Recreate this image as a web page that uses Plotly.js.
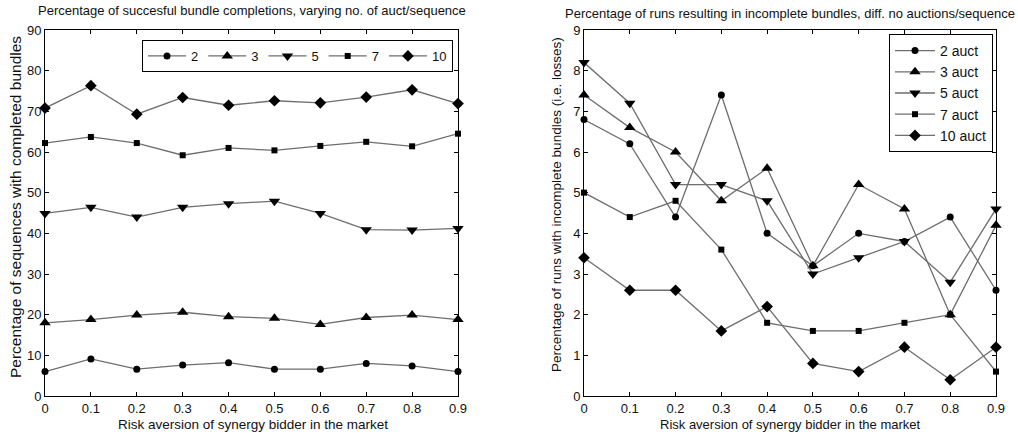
<!DOCTYPE html>
<html>
<head>
<meta charset="utf-8">
<script src="https://cdn.plot.ly/plotly-3.0.1.min.js"></script>
<style>html,body{margin:0;padding:0;background:#fff}#chart{width:1018px;height:434px}</style>
</head>
<body>
<div id="chart"></div>
<script>
// x values: risk aversion
var riskAversion = [0, 0.1, 0.2, 0.3, 0.4, 0.5, 0.6, 0.7, 0.8, 0.9];

// Left: percentage of sequences with completed bundles
var leftNames = ["2", "3", "5", "7", "10"];
var comp2  = [6.0, 9.1, 6.6, 7.6, 8.2, 6.6, 6.6, 8.0, 7.4, 6.0];
var comp3  = [18.0, 18.8, 19.9, 20.6, 19.5, 19.1, 17.6, 19.3, 19.9, 18.8];
var comp5  = [44.9, 46.4, 44.0, 46.4, 47.3, 47.9, 44.9, 40.9, 40.8, 41.2];
var comp7  = [62.2, 63.7, 62.2, 59.2, 61.0, 60.4, 61.5, 62.5, 61.4, 64.5];
var comp10 = [70.8, 76.3, 69.3, 73.4, 71.5, 72.6, 72.1, 73.5, 75.3, 71.9];

// Right: percentage of runs with incomplete bundles
var rightNames = ["2 auct", "3 auct", "5 auct", "7 auct", "10 auct"];
var inc2  = [6.8, 6.2, 4.4, 7.4, 4.0, 3.2, 4.0, 3.8, 4.4, 2.6];
var inc3  = [7.4, 6.6, 6.0, 4.8, 5.6, 3.2, 5.2, 4.6, 2.0, 4.2];
var inc5  = [8.2, 7.2, 5.2, 5.2, 4.8, 3.0, 3.4, 3.8, 2.8, 4.6];
var inc7  = [5.0, 4.4, 4.8, 3.6, 1.8, 1.6, 1.6, 1.8, 2.0, 0.6];
var inc10 = [3.4, 2.6, 2.6, 1.6, 2.2, 0.8, 0.6, 1.2, 0.4, 1.2];

var xTicks = [0, 0.1, 0.2, 0.3, 0.4, 0.5, 0.6, 0.7, 0.8, 0.9];
var xTickText = ["0", "0.1", "0.2", "0.3", "0.4", "0.5", "0.6", "0.7", "0.8", "0.9"];

var symbols = ["circle", "triangle-up", "triangle-down", "square", "diamond"];
var sizes = [7, 10, 10, 6, 9];
var lineColor = "#6e6e6e";

var leftData = [comp2, comp3, comp5, comp7, comp10];
var rightData = [inc2, inc3, inc5, inc7, inc10];

var traces = [];
leftData.forEach(function (ys, i) {
  traces.push({
    x: riskAversion, y: ys, name: leftNames[i], type: "scatter", mode: "lines+markers",
    xaxis: "x", yaxis: "y", legend: "legend", cliponaxis: false,
    line: {color: lineColor, width: 1.3},
    marker: {symbol: symbols[i], size: sizes[i], color: "#000"}
  });
});
rightData.forEach(function (ys, i) {
  traces.push({
    x: riskAversion, y: ys, name: rightNames[i], type: "scatter", mode: "lines+markers",
    xaxis: "x2", yaxis: "y2", legend: "legend2", cliponaxis: false,
    line: {color: lineColor, width: 1.3},
    marker: {symbol: symbols[i], size: sizes[i], color: "#000"}
  });
});

var W = 1018, H = 434;
function px(x) { return x / W; }
function py(y) { return 1 - y / H; }

var font = "Liberation Sans, Arial, sans-serif";

var axisCommon = {
  showgrid: false, zeroline: false, showline: true, linecolor: "#000", linewidth: 1,
  mirror: "ticks", ticks: "inside", ticklen: 4, tickcolor: "#000",
  tickfont: {family: font, size: 13, color: "#111"}
};
function ax(extra) { return Object.assign({}, axisCommon, extra); }

var layout = {
  width: W, height: H,
  margin: {l: 0, r: 0, t: 0, b: 0},
  paper_bgcolor: "#fff", plot_bgcolor: "#fff",
  showlegend: true,
  font: {family: font, color: "#111"},
  xaxis: ax({domain: [px(45), px(458)], range: [0, 0.9], tickvals: xTicks, ticktext: xTickText, anchor: "y"}),
  yaxis: ax({domain: [py(396), py(30)], range: [0, 90], tickvals: [0,10,20,30,40,50,60,70,80,90], anchor: "x"}),
  xaxis2: ax({domain: [px(584), px(996)], range: [0, 0.9], tickvals: xTicks, ticktext: xTickText, anchor: "y2"}),
  yaxis2: ax({domain: [py(396), py(30)], range: [0, 9], tickvals: [0,1,2,3,4,5,6,7,8,9], anchor: "x2"}),
  legend: {
    x: px(142), y: py(40), xanchor: "left", yanchor: "top", orientation: "h",
    bordercolor: "#000", borderwidth: 1, bgcolor: "#fff",
    font: {family: font, size: 13, color: "#111"}, itemwidth: 38, tracegroupgap: 0
  },
  legend2: {
    x: px(889), y: py(34), xanchor: "left", yanchor: "top", orientation: "v",
    bordercolor: "#000", borderwidth: 1, bgcolor: "#fff",
    font: {family: font, size: 14, color: "#111"}, itemwidth: 40, tracegroupgap: 0
  },
  annotations: [
    {text: "Percentage of succesful bundle completions, varying no. of auct/sequence", xref: "paper", yref: "paper",
     x: px(252), y: py(11), xanchor: "center", yanchor: "middle", showarrow: false, font: {family: font, size: 13, color: "#111"}},
    {text: "Percentage of runs resulting in incomplete bundles, diff. no auctions/sequence", xref: "paper", yref: "paper",
     x: px(790), y: py(14), xanchor: "center", yanchor: "middle", showarrow: false, font: {family: font, size: 13, color: "#111"}},
    {text: "Risk aversion of synergy bidder in the market", xref: "paper", yref: "paper",
     x: px(253), y: py(424), xanchor: "center", yanchor: "middle", showarrow: false, font: {family: font, size: 13.5, color: "#111"}},
    {text: "Risk aversion of synergy bidder in the market", xref: "paper", yref: "paper",
     x: px(790), y: py(424), xanchor: "center", yanchor: "middle", showarrow: false, font: {family: font, size: 13, color: "#111"}},
    {text: "Percentage of sequences with completed bundles", xref: "paper", yref: "paper", textangle: -90,
     x: px(15), y: py(207), xanchor: "center", yanchor: "middle", showarrow: false, font: {family: font, size: 15.5, color: "#111"}},
    {text: "Percentage of runs with incomplete bundles (i.e. losses)", xref: "paper", yref: "paper", textangle: -90,
     x: px(556), y: py(205), xanchor: "center", yanchor: "middle", showarrow: false, font: {family: font, size: 13.5, color: "#111"}}
  ]
};

Plotly.newPlot("chart", traces, layout, {displayModeBar: false, staticPlot: true});
</script>
</body>
</html>
